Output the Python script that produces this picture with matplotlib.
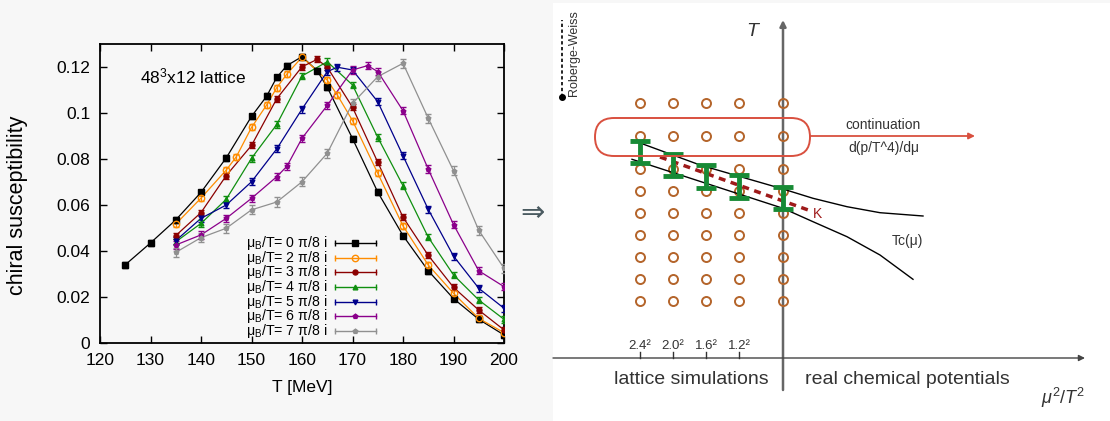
import numpy as np
import matplotlib
matplotlib.use('Agg')
import matplotlib.pyplot as plt
from matplotlib.patches import FancyBboxPatch

plt.rcParams['font.family'] = ['Liberation Sans', 'DejaVu Sans']
plt.rcParams['mathtext.fontset'] = 'custom'
plt.rcParams['mathtext.rm'] = 'Liberation Sans'
plt.rcParams['mathtext.it'] = 'Liberation Sans:italic'

# ---- left panel: chiral susceptibility vs T ----
T_mu0 = [125, 130, 135, 140, 145, 150, 153, 155, 157, 160, 163, 165, 170, 175, 180, 185, 190, 195, 200]
chi_mu0 = [0.034, 0.0435, 0.0535, 0.0655, 0.0805, 0.0985, 0.1073, 0.1155, 0.1206, 0.1245, 0.1184, 0.1112,
           0.0889, 0.0656, 0.0467, 0.0314, 0.0193, 0.0103, 0.0035]
T_mu2 = [135, 140, 145, 147, 150, 153, 155, 157, 160, 165, 167, 170, 175, 180, 185, 190, 195, 200]
chi_mu2 = [0.0517, 0.063, 0.0752, 0.0810, 0.0937, 0.1035, 0.1110, 0.1169, 0.1243, 0.1143, 0.1078, 0.0967,
           0.0738, 0.0509, 0.0339, 0.0216, 0.0107, 0.0045]
T_mu3 = [135, 140, 145, 150, 155, 160, 163, 165, 170, 175, 180, 185, 190, 195, 200]
chi_mu3 = [0.0467, 0.0567, 0.0728, 0.0859, 0.1062, 0.1201, 0.1233, 0.1199, 0.1025, 0.0786, 0.0547, 0.0381,
           0.0242, 0.0143, 0.0057]
T_mu4 = [135, 140, 145, 150, 155, 160, 165, 170, 175, 180, 185, 190, 195, 200]
chi_mu4 = [0.0440, 0.0520, 0.0625, 0.0803, 0.0950, 0.1161, 0.1223, 0.1122, 0.0894, 0.0684, 0.0460, 0.0296,
           0.0187, 0.0103]
T_mu5 = [135, 140, 145, 150, 155, 160, 165, 167, 170, 175, 180, 185, 190, 195, 200]
chi_mu5 = [0.0445, 0.0542, 0.0600, 0.0701, 0.0844, 0.1017, 0.1180, 0.1199, 0.1187, 0.1049, 0.0814, 0.0581,
           0.0378, 0.0238, 0.0151]
T_mu6 = [135, 140, 145, 150, 155, 157, 160, 165, 170, 173, 175, 180, 185, 190, 195, 200]
chi_mu6 = [0.0426, 0.0470, 0.0542, 0.0629, 0.0723, 0.0768, 0.0890, 0.1033, 0.1187, 0.1206, 0.1180, 0.1010,
           0.0756, 0.0515, 0.0314, 0.0245]
T_mu7 = [135, 140, 145, 150, 155, 160, 165, 170, 175, 180, 185, 190, 195, 200]
chi_mu7 = [0.0394, 0.0458, 0.0499, 0.0579, 0.0613, 0.0701, 0.0825, 0.1042, 0.1158, 0.1216, 0.0977, 0.0749,
           0.0490, 0.0325]

series_T = [T_mu0, T_mu2, T_mu3, T_mu4, T_mu5, T_mu6, T_mu7]
series_chi = [chi_mu0, chi_mu2, chi_mu3, chi_mu4, chi_mu5, chi_mu6, chi_mu7]
series_err = [0.0012, 0.0013, 0.0013, 0.0014, 0.0015, 0.0016, 0.0020]
mu_labels = ['0', '2', '3', '4', '5', '6', '7']
colors = ['black', '#ff8c00', '#8b0000', '#0f8f0f', '#00008b', '#8b008b', '#909090']
markers = ['s', 'o', 'o', '^', 'v', 'p', 'p']
msizes = [4.6, 4.6, 3.6, 3.4, 3.4, 3.4, 3.4]

# ---- right panel: schematic (units = pixels from the axes origin) ----
col_x = [-143, -110, -77, -44, 0]
col_labels = ['2.4²', '2.0²', '1.6²', '1.2²']
row_T = [255, 222, 189, 167, 145, 123, 101, 79, 57]
tc_lo = [194.7, 182.3, 170.3, 159.7, 148.7]
tc_hi = [217.0, 203.7, 193.0, 183.0, 171.3]
upper_x = [-151, -83, 0, 30, 64, 97, 140]
upper_y = [218, 193, 169, 159.7, 151.3, 145.3, 142]
lower_x = [-151, 0, 30, 64, 97, 130]
lower_y = [198.7, 149.7, 136.3, 121.3, 103, 78.7]
k_x = [-123, 28]
k_y = [201, 147]

bg = '#f7f7f7'
fig = plt.figure(figsize=(11.1, 4.21), dpi=100, facecolor=bg)

ax = fig.add_axes([100 / 1110, 78 / 421, 404 / 1110, 299 / 421])
ax.set_facecolor(bg)
for T, chi, err, c, m, ms in zip(series_T, series_chi, series_err, colors, markers, msizes):
    mfc = 'none' if c == '#ff8c00' else c
    ax.plot(T, chi, color=c, lw=0.9, zorder=2)
    ax.errorbar(T, chi, yerr=err, fmt=m, color=c, ms=ms, mfc=mfc, mew=1.0,
                elinewidth=0.9, capsize=2, capthick=0.9, zorder=3)

ax.set_xlim(120, 200)
ax.set_ylim(0, 0.13)
ax.set_xticks(range(120, 201, 10))
ax.set_yticks([0, 0.02, 0.04, 0.06, 0.08, 0.1, 0.12])
ax.set_yticklabels(['0', '0.02', '0.04', '0.06', '0.08', '0.1', '0.12'])
ax.tick_params(direction='in', length=5, width=1, top=True, right=True, labelsize=12.5, pad=7)
for s in ax.spines.values():
    s.set_linewidth(1.3)
ax.set_xlabel('T [MeV]', fontsize=12.5, labelpad=9)
ax.set_ylabel('chiral susceptibility', fontsize=15.5)
ax.yaxis.set_label_coords(-0.178, 0.46)
ax.text(0.1, 0.89, '48$^3$x12 lattice', transform=ax.transAxes, fontsize=12.5, va='center')

# legend drawn like gnuplot's
y0, dy = 0.335, 0.0492
for i, (lab, c, m, ms) in enumerate(zip(mu_labels, colors, markers, msizes)):
    yy = y0 - i * dy
    ax.text(0.564, yy, 'μ$_{\\rm B}$/T= %s π/8 i' % lab, transform=ax.transAxes,
            ha='right', va='center', fontsize=10.2)
    ax.plot([0.582, 0.683], [yy, yy], color=c, lw=1.0, transform=ax.transAxes)
    ax.plot([0.582, 0.683], [yy, yy], ls='none', marker='|', ms=5, mew=1.0, color=c,
            transform=ax.transAxes)
    mfc = 'none' if c == '#ff8c00' else c
    ax.plot([0.631], [yy], marker=m, ms=ms, mfc=mfc, mew=1.0, color=c, transform=ax.transAxes)

fig.text(533 / 1110, 1 - 213 / 421, '⇒', fontsize=21, color='#4a5a60',
         ha='center', va='center', family='DejaVu Sans')

# ---- right panel ----
ax2 = fig.add_axes([553 / 1110, 0, 557 / 1110, 418 / 421])
ax2.set_facecolor('white')
ax2.set_xlim(-230, 327)
ax2.set_ylim(-63, 355)
for s in ax2.spines.values():
    s.set_visible(False)
ax2.set_xticks([])
ax2.set_yticks([])

txt = '#333333'
red = '#d9503f'
green = '#178a35'
brown = '#b4642a'

# axes of the diagram
ax2.annotate('', xy=(0, 338), xytext=(0, -32),
             arrowprops=dict(arrowstyle='-|>', color='#666666', lw=1.8, mutation_scale=9,
                             shrinkA=0, shrinkB=0), zorder=2)
ax2.annotate('', xy=(302, 0), xytext=(-230, 0),
             arrowprops=dict(arrowstyle='-|>', color='#444444', lw=1.0, mutation_scale=9,
                             shrinkA=0, shrinkB=0), zorder=2)

# lattice grid
gx, gy = np.meshgrid(col_x, row_T)
ax2.plot(gx.ravel(), gy.ravel(), ls='none', marker='o', ms=6.5, mfc='none', mec=brown, mew=1.4, zorder=3)

# mu^2 ticks
for x, lab in zip(col_x[:4], col_labels):
    ax2.plot([x, x], [0, 6], color='#333333', lw=1.0)
    ax2.text(x, 12, lab, ha='center', va='center', fontsize=9.5, color=txt)

# Tc band curves
ax2.plot(upper_x, upper_y, color='black', lw=1.0, zorder=4)
ax2.plot(lower_x, lower_y, color='black', lw=1.0, zorder=4)
ax2.plot(k_x, k_y, color='#9e1a1a', lw=2.5, ls=(0, (2, 1.6)), zorder=5)
ax2.text(30, 144, 'K', color='#9e1a1a', fontsize=10, va='center', ha='left')
ax2.text(124, 117, 'Tc(μ)', color=txt, fontsize=10, ha='center', va='center')

# green error bars
for x, lo, hi in zip(col_x, tc_lo, tc_hi):
    ax2.plot([x, x], [lo, hi], color=green, lw=3.5, zorder=6, solid_capstyle='butt')
    for yy in (lo, hi):
        ax2.plot([x - 10, x + 10], [yy, yy], color=green, lw=3.5, zorder=6, solid_capstyle='butt')

# continuation box and arrow
box = FancyBboxPatch((-188, 202), 215, 38, boxstyle='round,pad=0,rounding_size=19',
                     fc='none', ec=red, lw=1.4, zorder=7)
ax2.add_patch(box)
ax2.annotate('', xy=(192, 222), xytext=(27, 222),
             arrowprops=dict(arrowstyle='-|>', color=red, lw=1.3, mutation_scale=9,
                             shrinkA=0, shrinkB=0))
ax2.text(100, 233, 'continuation', color=txt, fontsize=10, ha='center', va='center')
ax2.text(101, 210, 'd(p/T^4)/dμ', color=txt, fontsize=10, ha='center', va='center')

# labels
ax2.text(-31, 326, 'T', fontsize=14, style='italic', ha='center', va='center', color=txt)
ax2.text(280, -40, '$\\mu^2/T^2$', fontsize=13, ha='center', va='center', color=txt)
ax2.text(-91.5, -22, 'lattice simulations', fontsize=14, ha='center', va='center', color=txt)
ax2.text(124, -22, 'real chemical potentials', fontsize=14, ha='center', va='center', color=txt)

# Roberge-Weiss marker
ax2.plot([-221, -221], [261, 338], color='black', lw=1.2, ls=(0, (2, 1.5)))
ax2.plot([-221], [261], marker='o', ms=4, color='black')
ax2.text(-209, 305, 'Roberge-Weiss', rotation=90, fontsize=9, ha='center', va='center', color=txt)

fig.savefig('out.png', dpi=100, facecolor=fig.get_facecolor())
